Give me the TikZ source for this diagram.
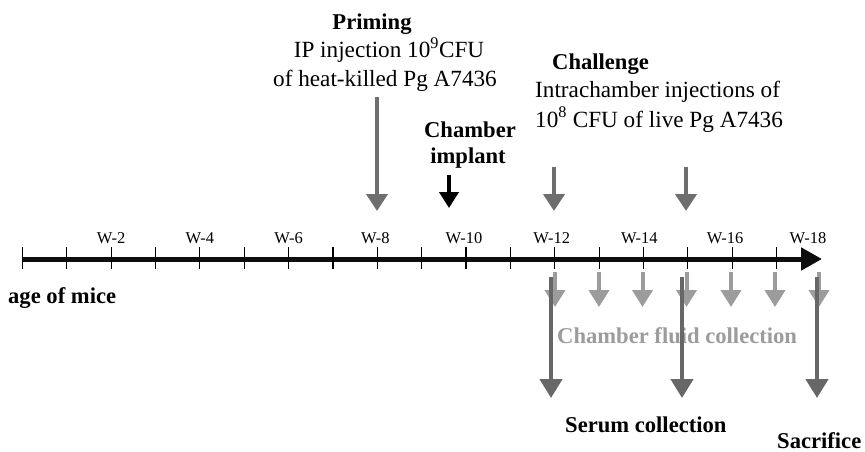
\documentclass[tikz,border=0pt]{standalone}
\usepackage{fontspec}
\setmainfont{Liberation Serif}
\usetikzlibrary{arrows.meta}
\definecolor{midgray}{HTML}{6E6E6E}
\definecolor{lightgray}{HTML}{9C9C9C}
\definecolor{darkgray}{HTML}{676767}
\tikzset{
  big/.style={font=\fontsize{23.2}{28}\selectfont, inner sep=0pt, anchor=base},
  bigb/.style={big, font=\fontsize{22.6}{27}\selectfont\bfseries},
  wlab/.style={font=\fontsize{16.5}{20}\selectfont, inner sep=0pt, anchor=base},
  tickline/.style={line width=1.1pt, black},
  evarrow/.style={line width=4pt, -{Triangle[width=21pt,length=17pt]}},
  fluidarrow/.style={line width=4pt, lightgray, -{Triangle[width=20pt,length=17pt]}},
  serumarrow/.style={line width=4.5pt, darkgray, -{Triangle[width=22pt,length=19pt]}},
}
\begin{document}
\begin{tikzpicture}[x=1pt,y=-1pt]
\useasboundingbox (0,0) rectangle (865,452);
% axis
\coordinate (axs) at (22,259);
\coordinate (axe) at (822,259);
\draw[line width=5pt, black!95, -{Triangle[width=22pt,length=21pt]}] (axs) -- (axe);
\foreach \k in {0,...,17} {
  \coordinate (tt\k) at ({22.5+44.35*\k},247);
  \coordinate (tb\k) at ({22.5+44.35*\k},269);
  \draw[tickline] (tt\k) -- (tb\k);
}
\foreach \k/\dx in {2/0,4/0,6/0,8/-2,10/-2,12/-3,14/-4,16/-7} {
  \node[wlab] (w\k) at ({22.5+44.35*\k+\dx},243) {W-\k};
}
\node[wlab] (w18) at (808,243) {W-18};
% top texts
\node[bigb] (prim) at (372,30) {Priming};
\node[big] (prim2) at (389,58) {IP injection 10\textsuperscript{9}CFU};
\node[big] (prim3) at (385,87) {of heat-killed Pg A7436};
\node[bigb, anchor=base west] (chal) at (552,70) {Challenge};
\node[big, anchor=base west] (chal2) at (535,98) {Intrachamber injections of};
\node[big, anchor=base west] (chal3) at (535,127) {10\textsuperscript{8}\ CFU of live Pg A7436};
\node[bigb] (cham1) at (470,137) {Chamber};
\node[bigb] (cham2) at (468,163) {implant};
\node[bigb, anchor=base west] (age) at (8,303) {age of mice};
% top arrows
\coordinate (pa1) at (377,97);  \coordinate (pa2) at (377,211);
\draw[evarrow, midgray] (pa1) -- (pa2);
\coordinate (ca1) at (449,175); \coordinate (ca2) at (449,208);
\draw[evarrow, black, -{Triangle[width=19pt,length=16pt]}] (ca1) -- (ca2);
\coordinate (ch1a) at (554,167); \coordinate (ch1b) at (554,211);
\draw[evarrow, midgray] (ch1a) -- (ch1b);
\coordinate (ch2a) at (686,167); \coordinate (ch2b) at (686,211);
\draw[evarrow, midgray] (ch2a) -- (ch2b);
% chamber fluid arrows
\foreach \x [count=\i] in {555,599,642.5,686.5,731,775,819} {
  \coordinate (fa\i) at (\x,272);
  \coordinate (fb\i) at (\x,307);
  \draw[fluidarrow] (fa\i) -- (fb\i);
}
\node[bigb, lightgray, anchor=base west] (fluid) at (557,343) {Chamber fluid collection};
% serum arrows
\foreach \x [count=\i] in {551,682,817} {
  \coordinate (sa\i) at (\x,277);
  \coordinate (sb\i) at (\x,398);
  \draw[serumarrow] (sa\i) -- (sb\i);
}
\node[bigb, anchor=base west] (serum) at (565,432) {Serum collection};
\node[bigb, anchor=base west] (sac) at (777,448) {Sacrifice};
\end{tikzpicture}
\end{document}
